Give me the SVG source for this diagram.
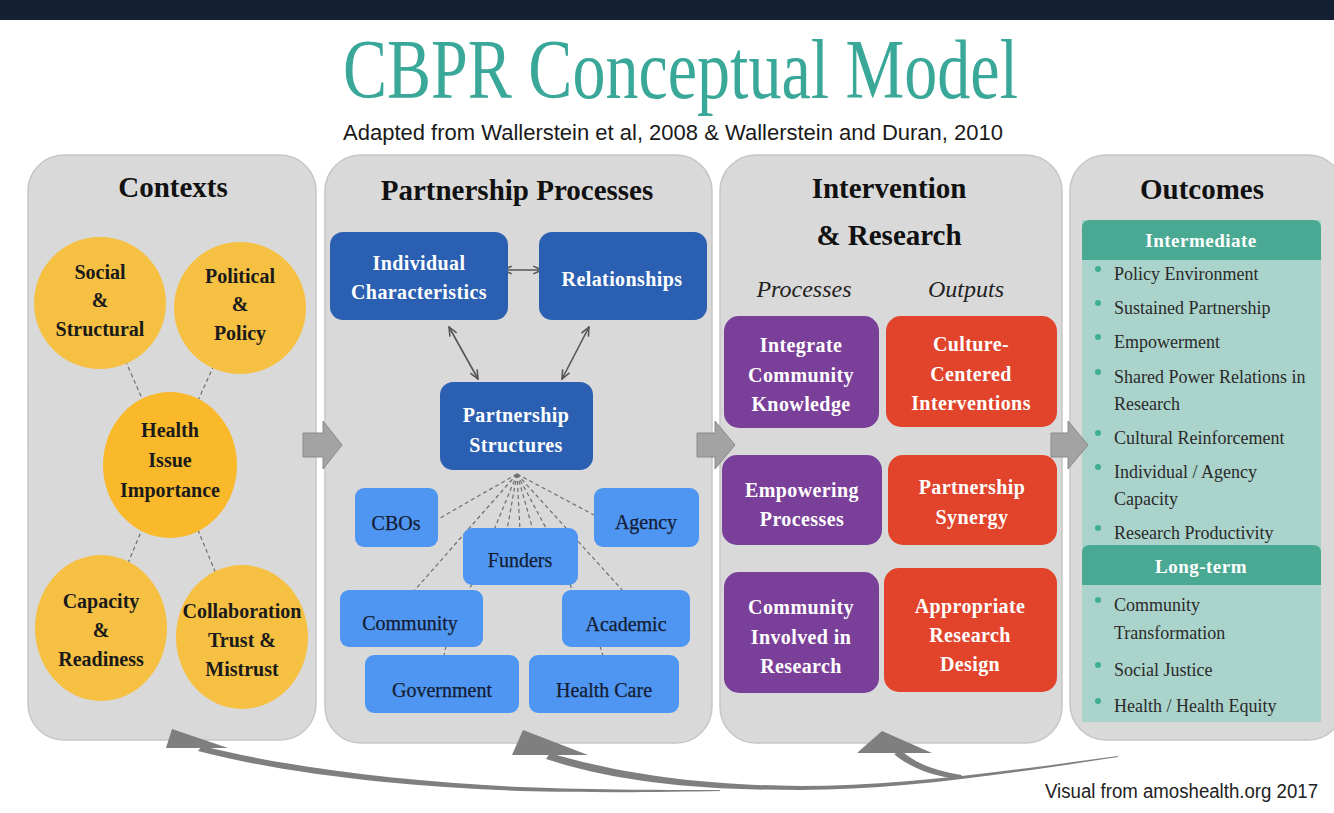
<svg xmlns="http://www.w3.org/2000/svg" width="1334" height="813" viewBox="0 0 1334 813">
  <defs>
    <style>
      .serif { font-family: "Liberation Serif", "Times New Roman", serif; }
      .sans { font-family: "Liberation Sans", Arial, sans-serif; }
      .panel { fill: #d9d9d9; stroke: #c6c6c6; stroke-width: 1.5; }
      .head { font-family: "Liberation Serif", "Times New Roman", serif; font-weight: bold; font-size: 29px; fill: #111; text-anchor: middle; }
      .circ { fill: #f6c142; }
      .circ-c { fill: #f9b92a; }
      .ctext { font-family: "Liberation Serif", serif; font-weight: bold; font-size: 20px; fill: #1a1a1a; text-anchor: middle; }
      .dk { fill: #2a5fb2; }
      .lt { fill: #4f96f2; }
      .wtext { font-family: "Liberation Serif", serif; font-weight: bold; font-size: 20px; fill: #ffffff; text-anchor: middle; letter-spacing: 0.4px; }
      .ltext { font-family: "Liberation Serif", serif; font-size: 20px; fill: #141c33; text-anchor: middle; stroke: #141c33; stroke-width: 0.25; }
      .purple { fill: #7a3f98; }
      .red { fill: #e1432b; }
      .sub { font-family: "Liberation Serif", serif; font-style: italic; font-size: 24px; fill: #222; text-anchor: middle; }
      .bul { font-family: "Liberation Serif", serif; font-size: 18px; fill: #2a2a2a; }
      .dot { fill: #3fae93; }
      .band { fill: #4aa993; }
      .btext { font-family: "Liberation Serif", serif; font-weight: bold; font-size: 19px; fill: #ffffff; text-anchor: middle; letter-spacing: 0.5px; }
      .dash { stroke: #6f6f6f; stroke-width: 1.2; stroke-dasharray: 4 3; fill: none; }
      .dbl { stroke: #555; stroke-width: 1.6; fill: none; marker-start: url(#chev); marker-end: url(#chev); }
      .block { fill: #a3a3a3; stroke: #8a8a8a; stroke-width: 1; }
      .loop { fill: #7f7f7f; }
    </style>
    <marker id="chev" viewBox="0 0 10 10" refX="9" refY="5" markerWidth="11" markerHeight="11" orient="auto-start-reverse" markerUnits="userSpaceOnUse">
      <path d="M1,1.5 L9,5 L1,8.5" fill="none" stroke="#555" stroke-width="1.4"/>
    </marker>
  </defs>

  <!-- page -->
  <rect x="0" y="0" width="1334" height="813" fill="#ffffff"/>
  <rect x="0" y="0" width="1334" height="20" fill="#162033"/>

  <!-- title block -->
  <text class="serif" x="343" y="98" font-size="84" fill="#3aa898" textLength="675" lengthAdjust="spacingAndGlyphs">CBPR Conceptual Model</text>
  <text class="sans" x="343" y="140" font-size="22" fill="#1a1a1a" textLength="660" lengthAdjust="spacingAndGlyphs">Adapted from Wallerstein et al, 2008 &amp; Wallerstein and Duran, 2010</text>

  <!-- column panels -->
  <g id="panel-contexts">
    <rect class="panel" x="28" y="155" width="288" height="585" rx="36"/>
    <text class="head" x="173" y="197">Contexts</text>
  </g>
  <g id="panel-partnership">
    <rect class="panel" x="325" y="155" width="387" height="588" rx="36"/>
    <text class="head" x="517" y="200">Partnership Processes</text>
  </g>
  <g id="panel-intervention">
    <rect class="panel" x="720" y="155" width="342" height="588" rx="36"/>
    <text class="head" x="889" y="198">Intervention</text>
    <text class="head" x="889" y="245">&amp; Research</text>
    <text class="sub" x="804" y="297">Processes</text>
    <text class="sub" x="966" y="297">Outputs</text>
  </g>
  <g id="panel-outcomes">
    <rect class="panel" x="1070" y="155" width="274" height="585" rx="36"/>
    <text class="head" x="1202" y="199">Outcomes</text>
    <rect x="1082" y="220" width="239" height="502" fill="#aad4cb"/>
  </g>

  <!-- connectors -->
  <g id="connectors">
    <!-- context links to the central circle -->
    <line class="dash" x1="100" y1="303" x2="170" y2="462"/>
    <line class="dash" x1="240" y1="308" x2="170" y2="462"/>
    <line class="dash" x1="101" y1="628" x2="170" y2="462"/>
    <line class="dash" x1="242" y1="637" x2="170" y2="462"/>

    <!-- partnership structure fan -->
    <line class="dash" x1="517" y1="474" x2="440" y2="518"/>
    <line class="dash" x1="517" y1="474" x2="413" y2="592"/>
    <line class="dash" x1="517" y1="474" x2="494" y2="530"/>
    <line class="dash" x1="517" y1="474" x2="507" y2="530"/>
    <line class="dash" x1="517" y1="474" x2="520" y2="530"/>
    <line class="dash" x1="517" y1="474" x2="533" y2="530"/>
    <line class="dash" x1="517" y1="474" x2="547" y2="530"/>
    <line class="dash" x1="517" y1="474" x2="594" y2="515"/>
    <line class="dash" x1="517" y1="474" x2="624" y2="592"/>
    <line class="dash" x1="472" y1="584" x2="468" y2="592"/>
    <line class="dash" x1="570" y1="584" x2="573" y2="592"/>
    <line class="dash" x1="446" y1="646" x2="444" y2="656"/>
    <line class="dash" x1="600" y1="646" x2="603" y2="656"/>

    <!-- two-way links between partnership boxes -->
    <line class="dbl" x1="503" y1="270" x2="542" y2="270"/>
    <line class="dbl" x1="449" y1="327" x2="478" y2="379"/>
    <line class="dbl" x1="589" y1="327" x2="562" y2="379"/>

    <!-- block arrows between columns -->
    <polygon class="block" points="303,433 323,433 323,421 342,445 323,469 323,457 303,457"/>
    <polygon class="block" points="697,433 715,433 715,421 735,445 715,469 715,457 697,457"/>
    <polygon class="block" points="1051,433 1068,433 1068,421 1088,445 1068,469 1068,457 1051,457"/>

    <!-- feedback loops along the bottom -->
    <path class="loop" d="M 202,746 C 290,768 410,782 520,787 C 600,790 670,790 720,790 L 720,791 C 670,792 600,793 520,791 C 410,787 290,775 198,751 Z"/>
    <polygon class="loop" points="172,729 166,748 228,748"/>
    <path class="loop" d="M 550,753 C 620,774 700,785 800,786 C 900,786 1000,772 1118,756 L 1118,757 C 1000,775 900,790 800,790 C 700,790 620,783 546,759 Z"/>
    <polygon class="loop" points="523,730 512,755 588,755"/>
    <path class="loop" d="M 902,751 C 915,763 935,771 962,775 L 958,779 C 930,776 908,766 894,754 Z"/>
    <polygon class="loop" points="882,731 857,753 932,753"/>
  </g>

  <!-- context circles -->
  <g id="social-structural">
    <circle class="circ" cx="100" cy="303" r="66"/>
    <text class="ctext" x="100" y="279">Social</text>
    <text class="ctext" x="100" y="307">&amp;</text>
    <text class="ctext" x="100" y="336">Structural</text>
  </g>
  <g id="political-policy">
    <circle class="circ" cx="240" cy="308" r="66"/>
    <text class="ctext" x="240" y="283">Political</text>
    <text class="ctext" x="240" y="311">&amp;</text>
    <text class="ctext" x="240" y="340">Policy</text>
  </g>
  <g id="health-issue">
    <ellipse class="circ-c" cx="170" cy="465" rx="67" ry="73"/>
    <text class="ctext" x="170" y="437">Health</text>
    <text class="ctext" x="170" y="467">Issue</text>
    <text class="ctext" x="170" y="497">Importance</text>
  </g>
  <g id="capacity-readiness">
    <ellipse class="circ" cx="101" cy="628" rx="66" ry="73"/>
    <text class="ctext" x="101" y="608">Capacity</text>
    <text class="ctext" x="101" y="637">&amp;</text>
    <text class="ctext" x="101" y="666">Readiness</text>
  </g>
  <g id="collaboration-trust">
    <ellipse class="circ" cx="242" cy="637" rx="66" ry="72"/>
    <text class="ctext" x="242" y="618">Collaboration</text>
    <text class="ctext" x="242" y="647">Trust &amp;</text>
    <text class="ctext" x="242" y="676">Mistrust</text>
  </g>

  <!-- partnership process boxes -->
  <g id="individual-characteristics">
    <rect class="dk" x="330" y="232" width="178" height="88" rx="13"/>
    <text class="wtext" x="419" y="270">Individual</text>
    <text class="wtext" x="419" y="299">Characteristics</text>
  </g>
  <g id="relationships">
    <rect class="dk" x="539" y="232" width="168" height="88" rx="13"/>
    <text class="wtext" x="622" y="286">Relationships</text>
  </g>
  <g id="partnership-structures">
    <rect class="dk" x="440" y="382" width="153" height="88" rx="13"/>
    <text class="wtext" x="516" y="422">Partnership</text>
    <text class="wtext" x="516" y="452">Structures</text>
  </g>
  <g id="cbos">
    <rect class="lt" x="355" y="488" width="83" height="59" rx="9"/>
    <text class="ltext" x="396" y="530">CBOs</text>
  </g>
  <g id="agency">
    <rect class="lt" x="594" y="488" width="105" height="59" rx="9"/>
    <text class="ltext" x="646" y="529">Agency</text>
  </g>
  <g id="funders">
    <rect class="lt" x="463" y="528" width="115" height="57" rx="9"/>
    <text class="ltext" x="520" y="567">Funders</text>
  </g>
  <g id="community">
    <rect class="lt" x="340" y="590" width="143" height="57" rx="9"/>
    <text class="ltext" x="410" y="630">Community</text>
  </g>
  <g id="academic">
    <rect class="lt" x="562" y="590" width="128" height="57" rx="9"/>
    <text class="ltext" x="626" y="631">Academic</text>
  </g>
  <g id="government">
    <rect class="lt" x="365" y="655" width="154" height="58" rx="9"/>
    <text class="ltext" x="442" y="697">Government</text>
  </g>
  <g id="health-care">
    <rect class="lt" x="529" y="655" width="150" height="58" rx="9"/>
    <text class="ltext" x="604" y="697">Health Care</text>
  </g>

  <!-- intervention and research boxes -->
  <g id="integrate-knowledge">
    <rect class="purple" x="724" y="316" width="155" height="112" rx="15"/>
    <text class="wtext" x="801" y="352">Integrate</text>
    <text class="wtext" x="801" y="382">Community</text>
    <text class="wtext" x="801" y="411">Knowledge</text>
  </g>
  <g id="empowering-processes">
    <rect class="purple" x="722" y="455" width="160" height="90" rx="15"/>
    <text class="wtext" x="802" y="497">Empowering</text>
    <text class="wtext" x="802" y="526">Processes</text>
  </g>
  <g id="community-involved">
    <rect class="purple" x="724" y="572" width="155" height="121" rx="15"/>
    <text class="wtext" x="801" y="614">Community</text>
    <text class="wtext" x="801" y="644">Involved in</text>
    <text class="wtext" x="801" y="673">Research</text>
  </g>
  <g id="culture-centered">
    <rect class="red" x="886" y="316" width="171" height="111" rx="15"/>
    <text class="wtext" x="971" y="351">Culture-</text>
    <text class="wtext" x="971" y="381">Centered</text>
    <text class="wtext" x="971" y="410">Interventions</text>
  </g>
  <g id="partnership-synergy">
    <rect class="red" x="888" y="455" width="169" height="90" rx="15"/>
    <text class="wtext" x="972" y="494">Partnership</text>
    <text class="wtext" x="972" y="524">Synergy</text>
  </g>
  <g id="research-design">
    <rect class="red" x="884" y="568" width="173" height="124" rx="15"/>
    <text class="wtext" x="970" y="613">Appropriate</text>
    <text class="wtext" x="970" y="642">Research</text>
    <text class="wtext" x="970" y="671">Design</text>
  </g>

  <!-- outcome lists -->
  <g id="intermediate">
    <path class="band" d="M1090,220 H1313 Q1321,220 1321,228 V260 H1082 V228 Q1082,220 1090,220 Z"/>
    <text class="btext" x="1201" y="247">Intermediate</text>
    <circle class="dot" cx="1098" cy="269" r="3"/>
    <text class="bul" x="1114" y="280">Policy Environment</text>
    <circle class="dot" cx="1098" cy="303" r="3"/>
    <text class="bul" x="1114" y="314">Sustained Partnership</text>
    <circle class="dot" cx="1098" cy="337" r="3"/>
    <text class="bul" x="1114" y="348">Empowerment</text>
    <circle class="dot" cx="1098" cy="372" r="3"/>
    <text class="bul" x="1114" y="383">Shared Power Relations in</text>
    <text class="bul" x="1114" y="410">Research</text>
    <circle class="dot" cx="1098" cy="433" r="3"/>
    <text class="bul" x="1114" y="444">Cultural Reinforcement</text>
    <circle class="dot" cx="1098" cy="467" r="3"/>
    <text class="bul" x="1114" y="478">Individual / Agency</text>
    <text class="bul" x="1114" y="505">Capacity</text>
    <circle class="dot" cx="1098" cy="528" r="3"/>
    <text class="bul" x="1114" y="539">Research  Productivity</text>
  </g>
  <g id="long-term">
    <path class="band" d="M1090,545 H1313 Q1321,545 1321,553 V585 H1082 V553 Q1082,545 1090,545 Z"/>
    <text class="btext" x="1201" y="573">Long-term</text>
    <circle class="dot" cx="1098" cy="600" r="3"/>
    <text class="bul" x="1114" y="611">Community</text>
    <text class="bul" x="1114" y="639">Transformation</text>
    <circle class="dot" cx="1098" cy="665" r="3"/>
    <text class="bul" x="1114" y="676">Social Justice</text>
    <circle class="dot" cx="1098" cy="701" r="3"/>
    <text class="bul" x="1114" y="712">Health / Health Equity</text>
  </g>

  <!-- credit -->
  <text class="sans" x="1045" y="798" font-size="20" fill="#222" textLength="273" lengthAdjust="spacingAndGlyphs">Visual from amoshealth.org 2017</text>
</svg>
